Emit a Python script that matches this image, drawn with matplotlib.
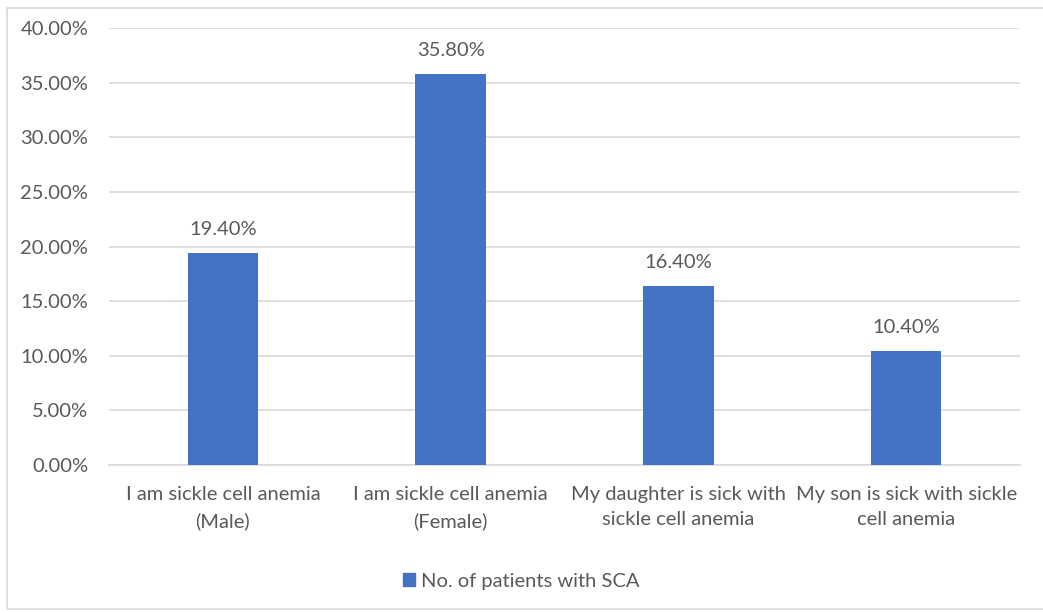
import matplotlib
matplotlib.use("Agg")
import matplotlib.pyplot as plt
from matplotlib.patches import Rectangle, Patch
from matplotlib.ticker import FuncFormatter

categories = [
    "I am sickle cell anemia\n(Male)",
    "I am sickle cell anemia\n(Female)",
    "My daughter is sick with\nsickle cell anemia",
    "My son is sick with sickle\ncell anemia",
]
values = [19.40, 35.80, 16.40, 10.40]
series_name = "No. of patients with SCA"
yticks = [0, 5, 10, 15, 20, 25, 30, 35, 40]

bar_color = "#4472C4"
text_color = "#595959"
grid_color = "#D9D9D9"
fs = 14.5

plt.rcParams["font.family"] = ["Lato", "DejaVu Sans"]

fig = plt.figure(figsize=(10.43, 6.13), dpi=100)
W, H = 1043, 613
ax = fig.add_axes([109 / W, 1 - 465 / H, (1020 - 109) / W, (465 - 28) / H])

# outer chart border
fig.patches.append(Rectangle((7 / W, 1 - 609 / H), 1.1, (609 - 8) / H,
                             transform=fig.transFigure, fill=False,
                             edgecolor=grid_color, linewidth=1.2))

x = range(len(categories))
ax.bar(x, values, width=0.31, color=bar_color, zorder=3)
for i, v in zip(x, values):
    ax.annotate(f"{v:.2f}%", (i, v), xytext=(0, 11), textcoords="offset points",
                ha="center", va="bottom", fontsize=fs, color=text_color)

ax.set_xlim(-0.5, len(categories) - 0.5)
ax.set_ylim(0, 40)
ax.set_yticks(yticks)
ax.yaxis.set_major_formatter(FuncFormatter(lambda v, _: f"{v:.2f}%"))
ax.set_xticks(list(x))
ax.set_xticklabels(categories, linespacing=1.6)
ax.tick_params(axis="both", length=0, labelsize=fs, labelcolor=text_color)
ax.tick_params(axis="x", pad=15)
ax.tick_params(axis="y", pad=15)
ax.grid(axis="y", color=grid_color, linewidth=1.2, zorder=0)
for s in ["top", "right", "left"]:
    ax.spines[s].set_visible(False)
ax.spines["bottom"].set_color(grid_color)
ax.spines["bottom"].set_linewidth(1.2)

fig.legend(handles=[Patch(color=bar_color, label=series_name)],
           loc="center", bbox_to_anchor=(0.5, 1 - 581 / H), frameon=False,
           fontsize=fs, labelcolor=text_color, handlelength=0.6,
           handleheight=0.6, handletextpad=0.3)

fig.savefig("out.png", dpi=100)
